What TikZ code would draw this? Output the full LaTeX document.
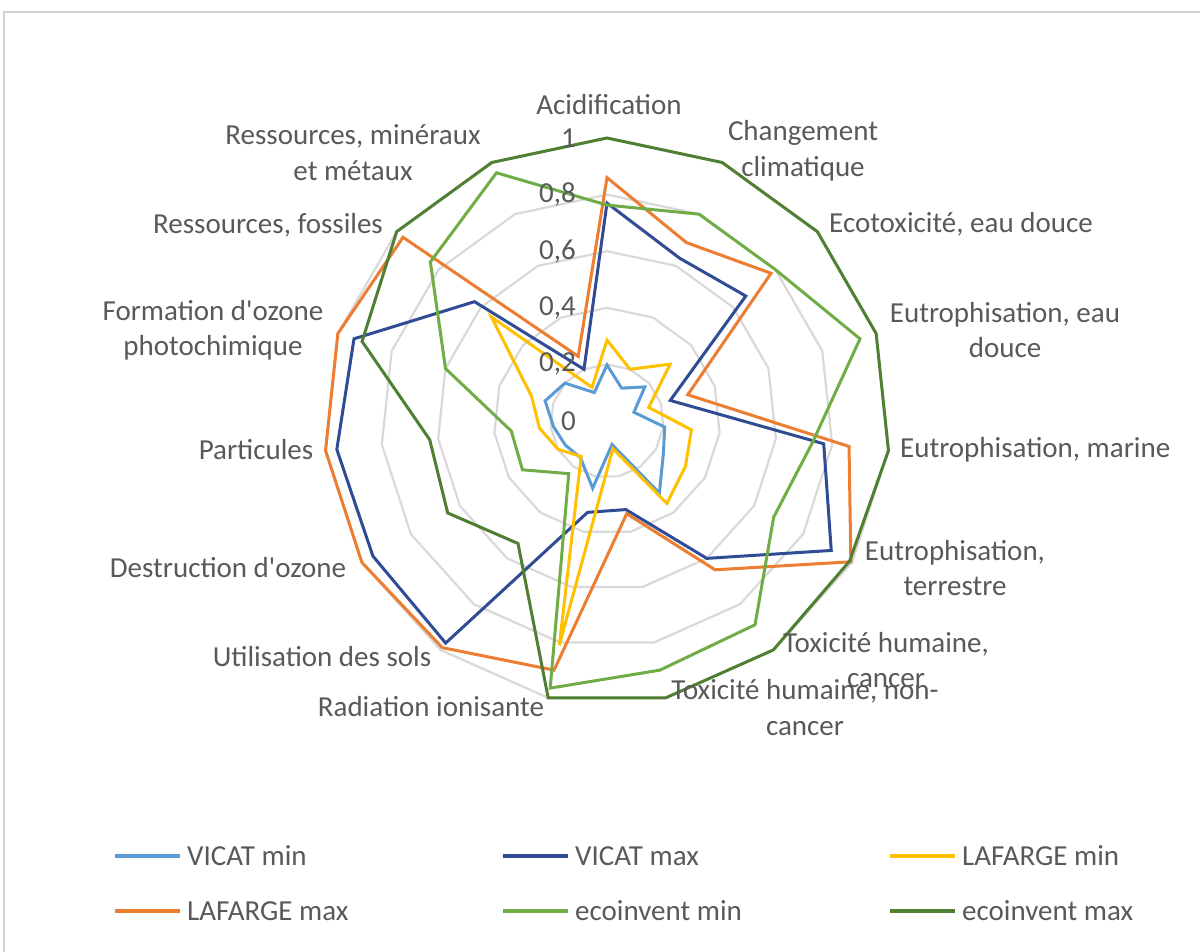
\documentclass[tikz,border=0pt]{standalone}
\usepackage{fontspec}
\setmainfont{Carlito}[Ligatures=TeXOff]
\definecolor{txt}{HTML}{595959}
\definecolor{gridc}{HTML}{D9D9D9}
\definecolor{framec}{HTML}{D0D0D0}
\definecolor{vmin}{HTML}{5B9BD5}
\definecolor{vmax}{HTML}{2F4C94}
\definecolor{lmin}{HTML}{FFC000}
\definecolor{lmax}{HTML}{ED7D31}
\definecolor{emin}{HTML}{70AD47}
\definecolor{emax}{HTML}{4F7F33}
\tikzset{
  series/.style={line width=3pt, line join=miter},
  ring/.style={draw=gridc, line width=2.2pt},
  lab/.style={text=txt, font=\fontsize{29}{35.5}\selectfont, align=center, inner sep=0pt},
  tick/.style={lab, anchor=east},
  legline/.style={line width=3.5pt},
  legtext/.style={lab, anchor=west},
}
% one closed polygon over the 15 axes: style, first value, remaining 14 values
\newcommand\radarpoly[3]{%
  \draw[series,#1] (90:{283*#2})
    \foreach \val [count=\idx from 1] in {#3} { -- ({90-24*\idx}:{283*\val}) } -- cycle;}
\begin{document}
\begin{tikzpicture}[x=1pt,y=1pt]
\useasboundingbox (0,0) rectangle (1200,951);
\draw[draw=framec, line width=1.5pt] (4,-20) -- (4,939) -- (1220,939);

\coordinate (cen) at (607,530);
\begin{scope}[shift={(cen)}]
  % grid rings
  \foreach \g in {0.2,0.4,0.6,0.8,1.0}
    \draw[ring] (90:{283*\g}) \foreach \idx in {1,...,14} { -- ({90-24*\idx}:{283*\g}) } -- cycle;
  % data series
  \radarpoly{vmin}{0.198}{0.127,0.18,0.1,0.205,0.23,0.315,0.085,0.243,0.16,0.17,0.19,0.23,0.2,0.11}
  \radarpoly{vmax}{0.77}{0.63,0.66,0.235,0.77,0.915,0.6,0.32,0.33,0.97,0.955,0.96,0.94,0.63,0.2}
  \radarpoly{lmin}{0.286}{0.2,0.3,0.155,0.3,0.32,0.36,0.1,0.81,0.155,0.2,0.24,0.28,0.55,0.13}
  \radarpoly{lmax}{0.86}{0.69,0.78,0.3,0.86,0.995,0.65,0.335,0.9,0.99,1,1,1,0.97,0.25}
  \radarpoly{emin}{0.763}{0.8,0.8,0.94,0.73,0.68,0.89,0.9,0.965,0.23,0.345,0.34,0.6,0.84,0.96}
  \radarpoly{emax}{1}{1,1,1,1,0.99,1,1,1,0.535,0.65,0.63,0.91,1,1}
\end{scope}

% value scale
\node[tick] (t0) at (576,530) {0};
\node[tick] (t1) at (576,586.6) {0,2};
\node[tick] (t2) at (576,643.2) {0,4};
\node[tick] (t3) at (576,699.8) {0,6};
\node[tick] (t4) at (576,756.4) {0,8};
\node[tick] (t5) at (576,813) {1};

% axis names
\node[lab] (lab0) at (609,846) {Acidification};
\node[lab] (lab1) at (803,800) {Changement\\climatique};
\node[lab] (lab2) at (961,727) {Ecotoxicité, eau douce};
\node[lab] (lab3) at (1005,621) {Eutrophisation, eau\\douce};
\node[lab,anchor=west] (lab4) at (900,501) {Eutrophisation, marine};
\node[lab] (lab5) at (955,383) {Eutrophisation,\\terrestre};
\node[lab] (lab6) at (886,291) {Toxicité humaine,\\cancer};
\node[lab] (lab7) at (805,243.5) {Toxicité humaine, non-\\cancer};
\node[lab] (lab8) at (431,244) {Radiation ionisante};
\node[lab] (lab9) at (322,294) {Utilisation des sols};
\node[lab] (lab10) at (228,383) {Destruction d'ozone};
\node[lab] (lab11) at (256,501) {Particules};
\node[lab] (lab12) at (213,620.5) {Formation d'ozone\\photochimique};
\node[lab] (lab13) at (268,726) {Ressources, fossiles};
\node[lab] (lab14) at (353,798.5) {Ressources, minéraux\\et métaux};

% legend
\foreach \c/\xa/\yy/\name/\txt in {
    vmin/115/95/lg1/VICAT min, vmax/503/95/lg2/VICAT max, lmin/890/95/lg3/LAFARGE min,
    lmax/115/40/lg4/LAFARGE max, emin/503/40/lg5/ecoinvent min, emax/890/40/lg6/ecoinvent max} {
  \coordinate (\name a) at (\xa,\yy);
  \coordinate (\name b) at (\xa+65,\yy);
  \draw[legline,\c] (\name a) -- (\name b);
  \node[legtext] (\name) at (\xa+72,\yy) {\txt};
}
\end{tikzpicture}
\end{document}
